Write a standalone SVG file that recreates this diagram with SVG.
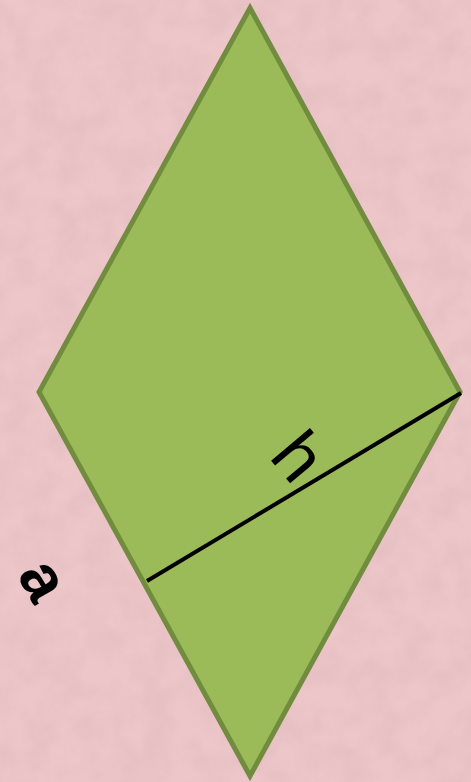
<svg xmlns="http://www.w3.org/2000/svg" width="471" height="782" viewBox="0 0 471 782">
  <defs>
    <filter id="tex" x="0" y="0" width="100%" height="100%">
      <feTurbulence type="fractalNoise" baseFrequency="0.035" numOctaves="4" seed="7" result="n"/>
      <feColorMatrix in="n" type="matrix" values="0 0 0 0 0.62  0 0 0 0 0.38  0 0 0 0 0.42  0 0 0 -1.1 0.75" result="spots"/>
      <feComposite in="spots" in2="SourceGraphic" operator="in"/>
    </filter>
  </defs>
  <style>
    .shape { fill: #9bbb59; stroke: #718c3e; stroke-width: 5; stroke-linejoin: miter; }
    .seg { stroke: #000000; stroke-width: 4; stroke-linecap: butt; fill: none; }
    .lbl { font-family: "Liberation Sans", Arial, sans-serif; fill: #000000; }
  </style>
  <g id="background">
    <rect x="0" y="0" width="471" height="782" fill="#ecc6c8"/>
    <rect x="0" y="0" width="471" height="782" fill="#ecc6c8" filter="url(#tex)" opacity="0.35"/>
  </g>
  <g id="rhombus">
    <polygon class="shape" points="250,8 460,392 250,776 39,392"/>
  </g>
  <g id="connectors">
    <line class="seg" x1="147" y1="581" x2="461" y2="393"/>
  </g>
  <g id="label-h">
    <text class="lbl" transform="translate(268,457) rotate(50)" x="0" y="0" font-size="70">h</text>
  </g>
  <g id="label-a">
    <text class="lbl" transform="translate(40,582) rotate(60)" x="0" y="17" font-size="64" font-weight="bold" text-anchor="middle">a</text>
  </g>
</svg>
